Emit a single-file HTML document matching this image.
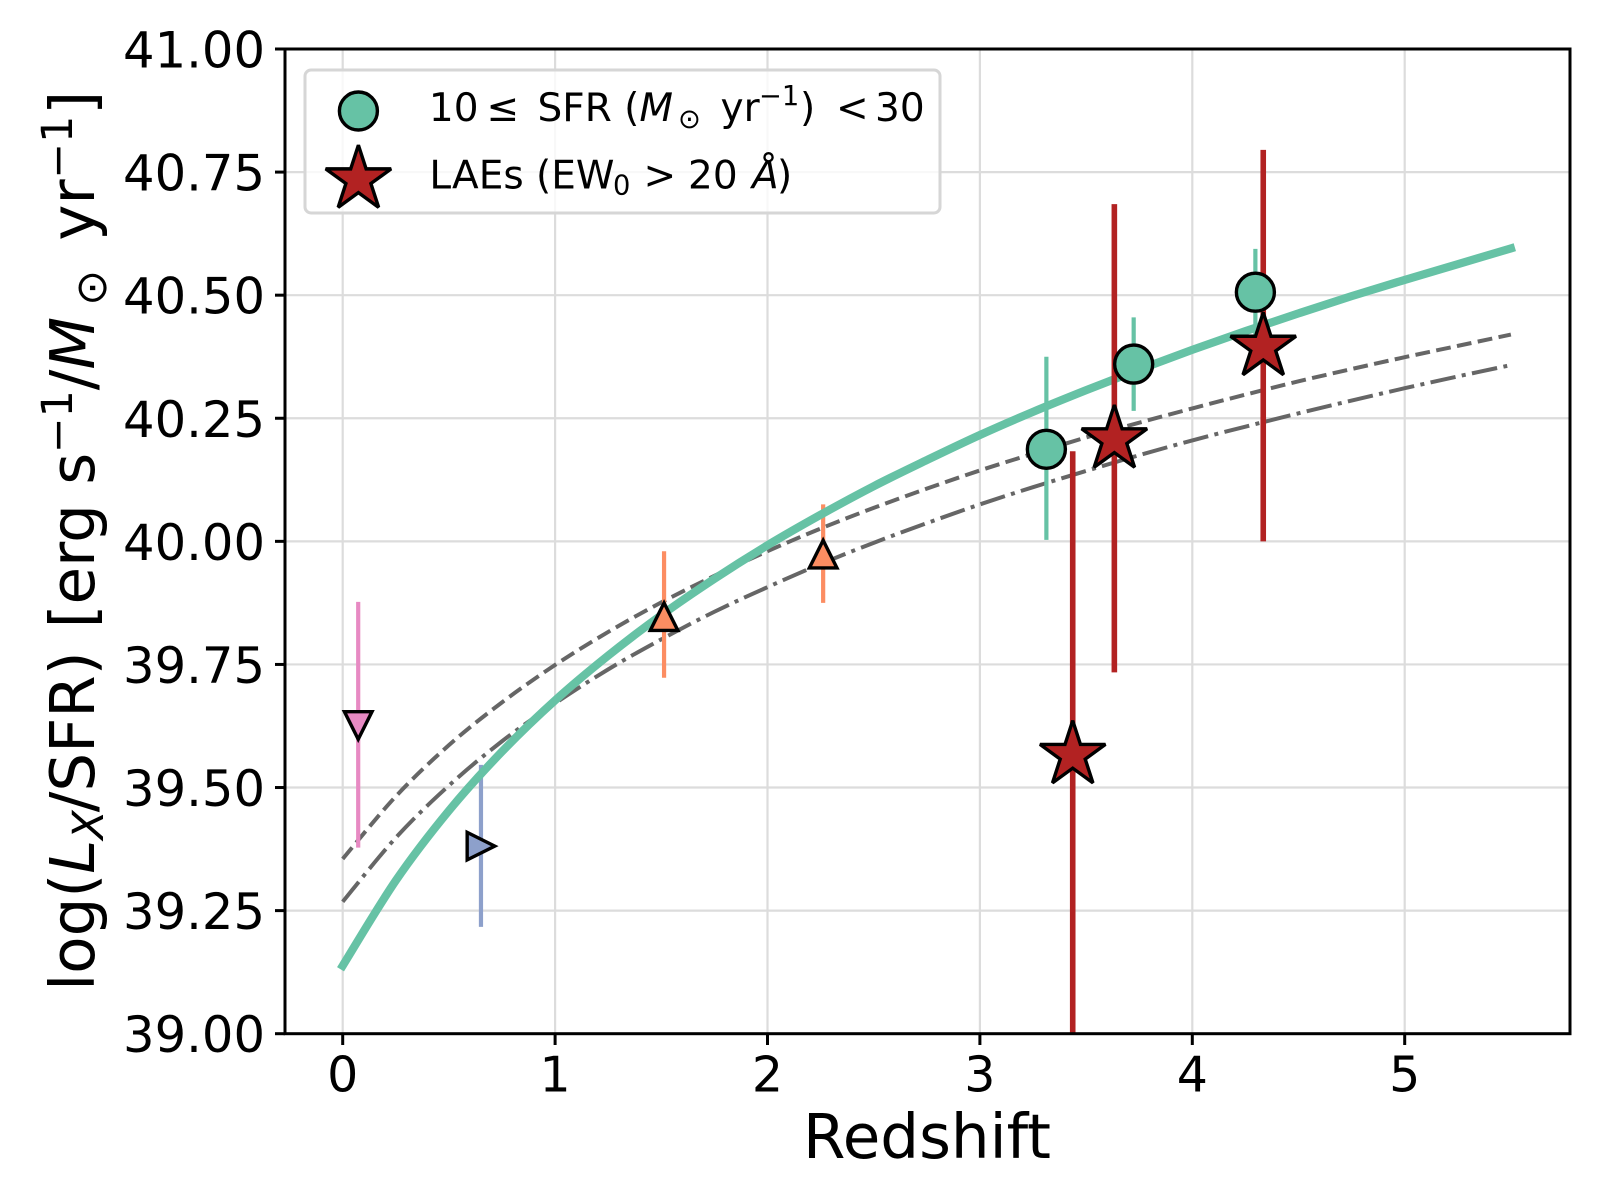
<!DOCTYPE html>
<html>
<head>
<meta charset="utf-8">
<title>LX/SFR vs Redshift</title>
<style>
html,body{margin:0;padding:0;background:#fff;}
svg{display:block;}
text{font-family:"DejaVu Sans","Liberation Sans",sans-serif;fill:#000;}
</style>
</head>
<body>
<svg id="chart" xmlns="http://www.w3.org/2000/svg" width="1600" height="1200" viewBox="0 0 1600 1200">
  <rect width="1600" height="1200" fill="#fff"/>
  <defs><clipPath id="plot-clip"><rect x="285" y="49" width="1285" height="984.7"/></clipPath></defs>
  <g id="grid"></g>
  <g id="marks" clip-path="url(#plot-clip)"></g>
  <rect x="285" y="49" width="1285" height="984.7" fill="none" stroke="#000" stroke-width="3"/>
  <g id="ticks"></g>
  <text x="927" y="1158" font-size="61.1" text-anchor="middle">Redshift</text>
  <text transform="translate(94,990.7) rotate(-90)" font-size="61.1">log(<tspan font-style="italic">L</tspan><tspan font-size="42.8" font-style="italic" dy="9" x="151">X</tspan><tspan dy="-9" x="178.5">/SFR)</tspan><tspan x="362.4">[erg s</tspan><tspan font-size="42.8" dy="-22" x="537.5">−1</tspan><tspan dy="22" x="600.5">/</tspan><tspan font-style="italic">M</tspan><tspan font-size="42.8" dy="12" x="685">⊙</tspan><tspan dy="-12" x="750">yr</tspan><tspan font-size="42.8" dy="-22" x="812">−1</tspan><tspan dy="22" x="876">]</tspan></text>
  <g>
    <rect x="305" y="70" width="635" height="143" rx="6" ry="6" fill="#fff" fill-opacity="0.8" stroke="#d6d6d6" stroke-width="3"/>
    <circle cx="358.4" cy="111" r="19" fill="#66c2a5" stroke="#000" stroke-width="3.4"/>
    <path id="legend-star" fill="#b22222" stroke="#000" stroke-width="3.4" stroke-miterlimit="2.5"/>
    <text y="121" font-size="39"><tspan x="428.9">10</tspan><tspan x="486.5">≤</tspan><tspan x="537.5">SFR (</tspan><tspan font-style="italic" x="639.4">M</tspan><tspan font-size="27.3" dy="7" x="678">⊙</tspan><tspan dy="-7" x="720.5">yr</tspan><tspan font-size="27.3" dy="-16" x="759">−1</tspan><tspan dy="16" x="800">)</tspan><tspan x="836">&lt;</tspan><tspan x="875">30</tspan></text>
    <text y="188.5" font-size="39"><tspan x="429.4">LAEs (EW</tspan><tspan font-size="27.3" dy="6" x="613">0</tspan><tspan dy="-6" x="643.5">&gt;</tspan><tspan x="688">20</tspan><tspan font-style="italic" x="752">Å</tspan><tspan x="777">)</tspan></text>
  </g>
</svg>
<script>
// ---- chart data ----
const xTicks = [0, 1, 2, 3, 4, 5];
const yTicks = [39.00, 39.25, 39.50, 39.75, 40.00, 40.25, 40.50, 40.75, 41.00];
const yTickLabels = ["39.00", "39.25", "39.50", "39.75", "40.00", "40.25", "40.50", "40.75", "41.00"];
const curveZ = [0, 0.25, 0.5, 0.75, 1, 1.25, 1.5, 1.75, 2, 2.25, 2.5, 2.75, 3, 3.25, 3.5, 3.75, 4, 4.25, 4.5, 4.75, 5, 5.25, 5.5];
const greenCurve = [39.138, 39.311, 39.453, 39.573, 39.677, 39.768, 39.850, 39.924, 39.992, 40.054, 40.112, 40.165, 40.216, 40.263, 40.307, 40.349, 40.389, 40.427, 40.463, 40.498, 40.531, 40.563, 40.595];
const dashedCurve = [39.355, 39.482, 39.586, 39.673, 39.749, 39.816, 39.876, 39.930, 39.980, 40.026, 40.068, 40.107, 40.144, 40.178, 40.211, 40.241, 40.270, 40.298, 40.325, 40.350, 40.374, 40.397, 40.420];
const dashDotCurve = [39.268, 39.398, 39.504, 39.594, 39.671, 39.740, 39.801, 39.857, 39.907, 39.954, 39.997, 40.037, 40.075, 40.110, 40.143, 40.175, 40.205, 40.233, 40.260, 40.286, 40.311, 40.335, 40.358];
const pinkZ = [0.073];
const pinkV = [39.626];
const pinkLow = [39.378];
const pinkHigh = [39.877];
const blueZ = [0.651];
const blueV = [39.381];
const blueLow = [39.217];
const blueHigh = [39.546];
const orangeZ = [1.513, 2.262];
const orangeV = [39.847, 39.974];
const orangeLow = [39.723, 39.875];
const orangeHigh = [39.980, 40.075];
const circleZ = [3.313, 3.724, 4.297];
const circleV = [40.187, 40.360, 40.506];
const circleLow = [40.003, 40.265, 40.420];
const circleHigh = [40.375, 40.455, 40.594];
const starZ = [3.437, 3.633, 4.334];
const starV = [39.566, 40.207, 40.395];
const starLow = [38.950, 39.734, 40.000];
const starHigh = [40.183, 40.685, 40.795];

// ---- axis functions ----
const xPos = z => 342.7 + z * 212.4;
const yPos = v => 1033.7 - (v - 39) * 492.35;

const NS = 'http://www.w3.org/2000/svg';
const gridG = document.getElementById('grid');
const ticksG = document.getElementById('ticks');
const marksG = document.getElementById('marks');

function mk(parent, tag, attrs) {
  const el = document.createElementNS(NS, tag);
  for (const k in attrs) el.setAttribute(k, attrs[k]);
  parent.appendChild(el);
  return el;
}

function starPath(cx, cy, R) {
  let d = '';
  const r = R * 0.381966;
  for (let i = 0; i < 10; i++) {
    const a = -Math.PI / 2 + i * Math.PI / 5;
    const q = i % 2 ? r : R;
    d += (i ? 'L' : 'M') + (cx + q * Math.cos(a)).toFixed(2) + ' ' + (cy + q * Math.sin(a)).toFixed(2);
  }
  return d + 'Z';
}

function smoothPath(zs, vs) {
  const p = zs.map((z, i) => [xPos(z), yPos(vs[i])]);
  let d = 'M' + p[0][0].toFixed(2) + ' ' + p[0][1].toFixed(2);
  for (let i = 0; i < p.length - 1; i++) {
    const a = p[Math.max(i - 1, 0)], b = p[i], c = p[i + 1], e = p[Math.min(i + 2, p.length - 1)];
    const c1x = b[0] + (c[0] - a[0]) / 6, c1y = b[1] + (c[1] - a[1]) / 6;
    const c2x = c[0] - (e[0] - b[0]) / 6, c2y = c[1] - (e[1] - b[1]) / 6;
    d += 'C' + c1x.toFixed(2) + ' ' + c1y.toFixed(2) + ' ' + c2x.toFixed(2) + ' ' + c2y.toFixed(2) + ' ' + c[0].toFixed(2) + ' ' + c[1].toFixed(2);
  }
  return d;
}

// grid and ticks
xTicks.forEach(t => {
  const x = xPos(t);
  const g = mk(gridG, 'line', {x1: x, x2: x, y1: 49, y2: 1033.7, stroke: '#dcdcdc', 'stroke-width': 2.2});
  
  
  const m = mk(ticksG, 'line', {x1: x, x2: x, y1: 1033.7, y2: 1045, stroke: '#000', 'stroke-width': 3});
  
  
  const l = mk(ticksG, 'text', {x: x, y: 1091.5, 'font-size': 49, 'text-anchor': 'middle'});
  l.textContent = String(t);
  
  
});
yTicks.forEach((t, i) => {
  const y = yPos(t);
  const g = mk(gridG, 'line', {x1: 285, x2: 1570, y1: y, y2: y, stroke: '#dcdcdc', 'stroke-width': 2.2});
  
  
  const m = mk(ticksG, 'line', {x1: 275, x2: 285, y1: y, y2: y, stroke: '#000', 'stroke-width': 3});
  
  
  const l = mk(ticksG, 'text', {x: 265, y: y + 18.5, 'font-size': 49.6, 'text-anchor': 'end'});
  l.textContent = yTickLabels[i];
  
  
});

// curves
const dashedLine = mk(marksG, 'path', {d: smoothPath(curveZ, dashedCurve), fill: 'none', stroke: '#666', 'stroke-width': 4, 'stroke-dasharray': '14.8 6.4'});


const dashDotLine = mk(marksG, 'path', {d: smoothPath(curveZ, dashDotCurve), fill: 'none', stroke: '#666', 'stroke-width': 4, 'stroke-dasharray': '25.6 6.4 4 6.4'});



function errorBars(zs, lows, highs, color, width, name) {
  zs.forEach((z, i) => {
    const b = mk(marksG, 'line', {x1: xPos(z), x2: xPos(z), y1: yPos(lows[i]), y2: yPos(highs[i]), stroke: color, 'stroke-width': width});
    
    
  });
}

errorBars(blueZ, blueLow, blueHigh, '#8da0cb', 4.2, 'blue-error-bar');
errorBars(pinkZ, pinkLow, pinkHigh, '#e78ac3', 4.2, 'pink-error-bar');
errorBars(orangeZ, orangeLow, orangeHigh, '#fc8d62', 4.2, 'orange-error-bar');

const greenLine = mk(marksG, 'path', {d: smoothPath(curveZ, greenCurve), fill: 'none', stroke: '#66c2a5', 'stroke-width': 8.2, 'stroke-linecap': 'square'});



errorBars(circleZ, circleLow, circleHigh, '#66c2a5', 4.2, 'circle-error-bar');
errorBars(starZ, starLow, starHigh, '#b22222', 5.6, 'star-error-bar');

// triangle markers
const h = 13.8;
pinkZ.forEach((z, i) => {
  const x = xPos(z), y = yPos(pinkV[i]);
  const t = mk(marksG, 'path', {d: `M${x} ${y + h}L${x - h} ${y - h}L${x + h} ${y - h}Z`, fill: '#e78ac3', stroke: '#000', 'stroke-width': 3.4, 'stroke-miterlimit': 2.5});
  
  
});
blueZ.forEach((z, i) => {
  const x = xPos(z), y = yPos(blueV[i]);
  const t = mk(marksG, 'path', {d: `M${x + h} ${y}L${x - h} ${y - h}L${x - h} ${y + h}Z`, fill: '#8da0cb', stroke: '#000', 'stroke-width': 3.4, 'stroke-miterlimit': 2.5});
  
  
});
orangeZ.forEach((z, i) => {
  const x = xPos(z), y = yPos(orangeV[i]);
  const t = mk(marksG, 'path', {d: `M${x} ${y - h}L${x - h} ${y + h}L${x + h} ${y + h}Z`, fill: '#fc8d62', stroke: '#000', 'stroke-width': 3.4, 'stroke-miterlimit': 2.5});
  
  
});

// circles and stars
circleZ.forEach((z, i) => {
  const c = mk(marksG, 'circle', {cx: xPos(z), cy: yPos(circleV[i]), r: 19, fill: '#66c2a5', stroke: '#000', 'stroke-width': 3.4});
  
  
});
starZ.forEach((z, i) => {
  const s = mk(marksG, 'path', {d: starPath(xPos(z), yPos(starV[i]), 34.4), fill: '#b22222', stroke: '#000', 'stroke-width': 3.4, 'stroke-miterlimit': 2.5});
  
  
});
document.getElementById('legend-star').setAttribute('d', starPath(358.4, 179.5, 34.4));
</script>
</body>
</html>
